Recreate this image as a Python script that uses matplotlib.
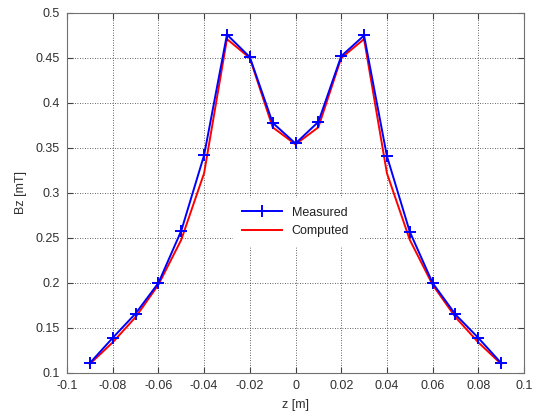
import matplotlib
matplotlib.use("Agg")
import matplotlib.pyplot as plt

# Posiciones a lo largo del eje z [m]
z = [-0.09, -0.08, -0.07, -0.06, -0.05, -0.04, -0.03, -0.02, -0.01, 0.0,
     0.01, 0.02, 0.03, 0.04, 0.05, 0.06, 0.07, 0.08, 0.09]

# Bz medido y calculado [mT]
bz_medido = [0.111, 0.139, 0.166, 0.200, 0.258, 0.342, 0.476, 0.451, 0.378, 0.355,
             0.379, 0.452, 0.475, 0.341, 0.257, 0.200, 0.165, 0.139, 0.111]
bz_calculado = [0.110, 0.134, 0.162, 0.198, 0.248, 0.322, 0.471, 0.450, 0.373, 0.354,
                0.373, 0.450, 0.471, 0.322, 0.248, 0.198, 0.162, 0.134, 0.110]

xticks = [-0.1, -0.08, -0.06, -0.04, -0.02, 0, 0.02, 0.04, 0.06, 0.08, 0.1]
xticklabels = ["-0.1", "-0.08", "-0.06", "-0.04", "-0.02", "0",
               "0.02", "0.04", "0.06", "0.08", "0.1"]
yticks = [0.1, 0.15, 0.2, 0.25, 0.3, 0.35, 0.4, 0.45, 0.5]
yticklabels = ["0.1", "0.15", "0.2", "0.25", "0.3", "0.35", "0.4", "0.45", "0.5"]

plt.rcParams["font.family"] = ["Liberation Sans", "DejaVu Sans"]
plt.rcParams["font.size"] = 9

fig = plt.figure(figsize=(5.39, 4.16), dpi=100)
ax = fig.add_axes([0.1243, 0.1034, 0.8479, 0.8654])

ax.plot(z, bz_medido, color="#0000ff", lw=1.4, marker="+", ms=8, mew=1.4,
        label="Measured", zorder=3)
ax.plot(z, bz_calculado, color="#ff0000", lw=1.4, label="Computed", zorder=2)

ax.set_xlim(-0.1, 0.1)
ax.set_ylim(0.1, 0.5)
ax.set_xticks(xticks)
ax.set_xticklabels(xticklabels)
ax.set_yticks(yticks)
ax.set_yticklabels(yticklabels)
ax.set_xlabel("z [m]", labelpad=5, color="#303030")
ax.set_ylabel("Bz [mT]", labelpad=6, color="#303030")

ax.grid(True, color="#303030", linestyle=(0, (1, 2)), linewidth=0.6)
ax.tick_params(direction="in", top=True, right=True, length=4, pad=5,
               color="#404040", labelcolor="#303030")
for s in ax.spines.values():
    s.set_color("#707070")
    s.set_linewidth(0.8)

leg = ax.legend(loc="center", bbox_to_anchor=(0.5, 0.42), frameon=True,
                fancybox=False, edgecolor="white", framealpha=1.0,
                fontsize=9, handlelength=3.2, borderpad=0.7,
                labelcolor="#202020")

fig.savefig("out.png", dpi=100)
